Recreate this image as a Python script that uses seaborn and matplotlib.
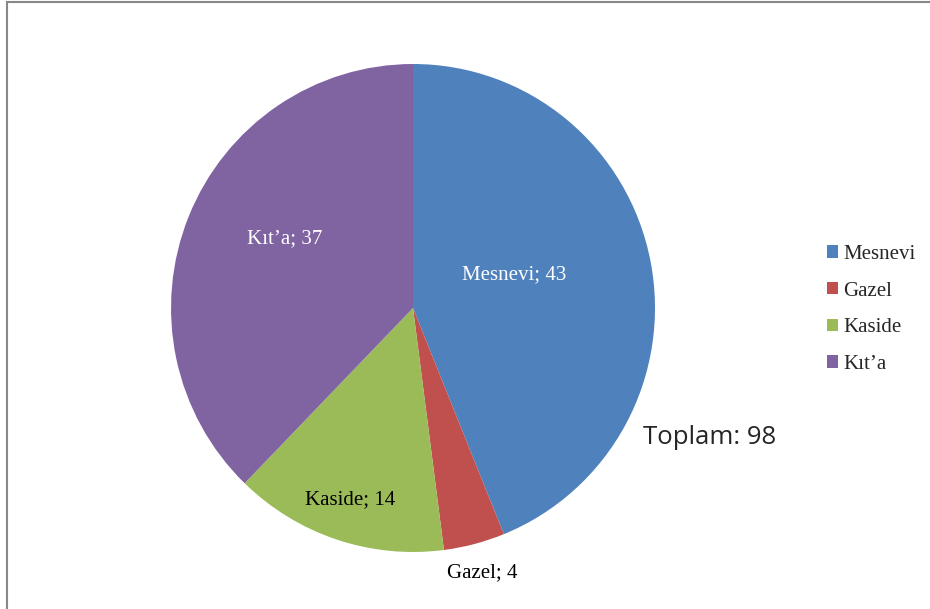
import numpy as np
import matplotlib.pyplot as plt
import seaborn as sns

# data
categories = ['Mesnevi', 'Gazel', 'Kaside', 'Kıt’a']
counts = [43, 4, 14, 37]
colors = ['#4F81BD', '#C0504D', '#9BBB59', '#8064A2']
label_colors = ['white', 'black', 'black', 'white']
label_dist = [0.44, 1.12, 0.83, 0.6]
label_shift = [7, 0, 0, -6]  # degrees, nudges like excel's best fit
total_text = 'Toplam: 98'

sns.set_theme(style='white')
plt.rcParams['font.family'] = ['Liberation Serif', 'DejaVu Serif']

fig = plt.figure(figsize=(9.3, 6.09), dpi=100)
ax = fig.add_axes([0.1839, 0.0936, 0.5204, 0.8013])

wedges, _ = ax.pie(counts, colors=colors, startangle=90, counterclock=False,
                   radius=1, wedgeprops=dict(linewidth=0))
ax.set_xlim(-1, 1)
ax.set_ylim(-1, 1)
ax.set_aspect('auto')
ax.axis('off')

for w, cat, n, c, d, s in zip(wedges, categories, counts, label_colors, label_dist, label_shift):
    ang = np.deg2rad((w.theta1 + w.theta2) / 2 + s)
    ax.text(d * np.cos(ang), d * np.sin(ang), f'{cat}; {n}', color=c,
            ha='center', va='center', fontsize=15)

leg = fig.legend(wedges, categories, loc='center left', bbox_to_anchor=(0.878, 0.492),
                 frameon=False, fontsize=15, handlelength=0.55, handleheight=0.55,
                 handletextpad=0.25, labelspacing=0.85, borderpad=0)

fig.text(0.763, 0.282, total_text, ha='center', va='center', fontsize=18.5,
         family=['Open Sans', 'DejaVu Sans'])

# thin grey frame (only top and left visible in the crop)
fig.add_artist(plt.Rectangle((0.0075, -0.1), 1.2, 1.0967, transform=fig.transFigure,
                             fill=False, edgecolor='#888888', linewidth=1.5))

fig.savefig('out.png', dpi=100)
